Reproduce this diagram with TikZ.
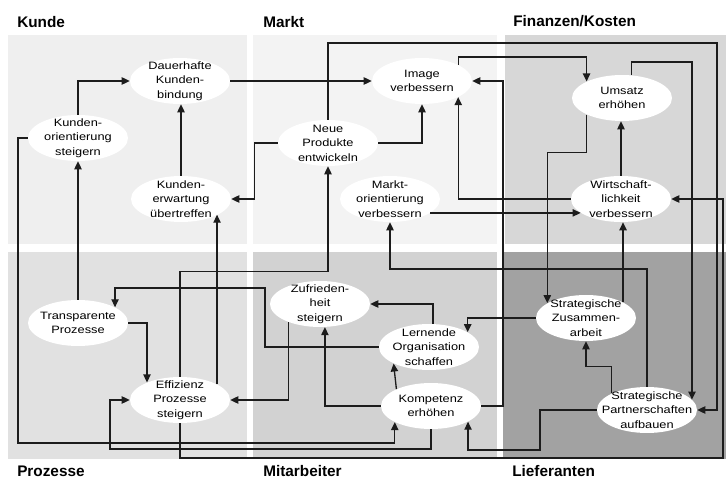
\documentclass[tikz,border=0pt]{standalone}
\usepackage{fontspec}
\setmainfont{Liberation Sans}
\newfontfamily\zielfont[FakeStretch=1.2]{Liberation Sans}
\usetikzlibrary{shapes.geometric,arrows.meta}
\definecolor{feldkunde}{HTML}{EFEFEF}
\definecolor{feldmarkt}{HTML}{F3F3F3}
\definecolor{feldfinanz}{HTML}{D7D7D7}
\definecolor{feldprozess}{HTML}{E1E1E1}
\definecolor{feldmitarb}{HTML}{D2D2D2}
\definecolor{feldliefer}{HTML}{A2A2A2}
\definecolor{linie}{HTML}{1C1C1C}
\tikzset{
  ziel/.style={ellipse, fill=white, minimum width=75pt, minimum height=34.5pt,
    inner xsep=-25pt, inner ysep=-10pt, align=center,
    font=\zielfont\fontsize{8}{10.9}\selectfont},
  bereich/.style={anchor=base west, inner sep=0pt, font=\bfseries\fontsize{11.5}{13}\selectfont},
  pfeil/.style={draw=linie, line width=1pt, -{Triangle[length=6pt,width=5.5pt]}}
}
\begin{document}
\begin{tikzpicture}[x=0.75pt,y=-0.75pt]
\useasboundingbox (0,0) rectangle (726,481);
\fill[feldkunde] (8,35) rectangle (247,244);
\fill[feldmarkt] (253,35) rectangle (497,244);
\fill[feldfinanz] (505,35) rectangle (726,244);
\fill[feldprozess] (8,252) rectangle (247,459);
\fill[feldmitarb] (253,252) rectangle (497,459);
\fill[feldliefer] (503,252) rectangle (726,459);

\node[bereich] (lkunde) at (17,28) {Kunde};
\node[bereich] (lmarkt) at (263,28) {Markt};
\node[bereich] (lfinanz) at (513,27) {Finanzen/Kosten};
\node[bereich] (lprozess) at (17,477) {Prozesse};
\node[bereich] (lmitarb) at (263,477) {Mitarbeiter};
\node[bereich] (lliefer) at (512,477) {Lieferanten};

\node[ziel] (dkb) at (180,81) {Dauerhafte\\Kunden-\\bindung};
\node[ziel] (kor) at (78,138) {Kunden-\\orientierung\\steigern};
\node[ziel] (keu) at (181,199) {Kunden-\\erwartung\\übertreffen};
\node[ziel] (neu) at (328,143) {Neue\\Produkte\\entwickeln};
\node[ziel] (img) at (422,81) {Image\\verbessern};
\node[ziel] (mor) at (390,199) {Markt-\\orientierung\\verbessern};
\node[ziel] (ums) at (622,98) {Umsatz\\erhöhen};
\node[ziel] (wir) at (621,199) {Wirtschaft-\\lichkeit\\verbessern};
\node[ziel] (tra) at (78,323) {Transparente\\Prozesse};
\node[ziel] (eff) at (180,400) {Effizienz\\Prozesse\\steigern};
\node[ziel] (zuf) at (320,304) {Zufrieden-\\heit\\steigern};
\node[ziel] (ler) at (429,347) {Lernende\\Organisation\\schaffen};
\node[ziel] (kom) at (431,406) {Kompetenz\\erhöhen};
\node[ziel] (zus) at (586,318) {Strategische\\Zusammen-\\arbeit};
\node[ziel] (par) at (647,410) {Strategische\\Partnerschaften\\aufbauen};

\draw[pfeil] (kor.north) |- (dkb.west);
\draw[pfeil] (keu.north) -- (keu.north |- dkb.south);
\draw[pfeil] (dkb.east) -- (img.west);
\draw[pfeil] (neu.west) -- ++(-23,0) |- (keu.east);
\draw[pfeil] (neu.east) -| (img.south);
\draw[pfeil] (img.24) -- ++(0,-8) -| (ums.155);
\draw[pfeil] (ums.68) -- ++(0,-13) -| (par.13);
\draw[pfeil] (ums.205) -- ++(0,38) -| (zus.159);
\draw[pfeil] (wir.north) -- (wir.north |- ums.south);
\draw[pfeil] (wir.west) -| (img.-24);
\draw[pfeil] (mor.-19) -- (wir.199);
\draw[pfeil] (zus.23) -- (zus.23 |- wir.south);
\draw[pfeil] (par.155) -- ++(0,-27) -| (zus.south);
\draw[pfeil] (par.north) |- (390,269) -- (mor.south);
\draw[pfeil] (neu.north) |- (717,43) |- (par.east);
\draw[pfeil] (eff.south) |- (723,458) |- (wir.east);
\draw[pfeil] (kom.east) -| (503,81) -- (img.east);
\draw[pfeil] (kom.154) -- (ler.205);
\draw[pfeil] (kom.west) -| (zuf.-78);
\draw[pfeil] (kom.south) |- (110,449) |- (eff.west);
\draw[pfeil] (kor.west) -| (18,443) -| (kom.204);
\draw[pfeil] (par.west) -| (540,450) -| (kom.-23);
\draw[pfeil] (zus.west) -| (ler.21);
\draw[pfeil] (ler.80) |- (zuf.east);
\draw[pfeil] (ler.west) -| (265,288) -| (tra.23);
\draw[pfeil] (tra.north) -- (kor.south);
\draw[pfeil] (tra.east) -| (eff.152);
\draw[pfeil] (eff.north) -- ++(0,-105) -| (neu.south);
\draw[pfeil] (eff.23) -- (eff.23 |- keu.-23);
\draw[pfeil] (zuf.210) |- (eff.east);
\end{tikzpicture}
\end{document}
